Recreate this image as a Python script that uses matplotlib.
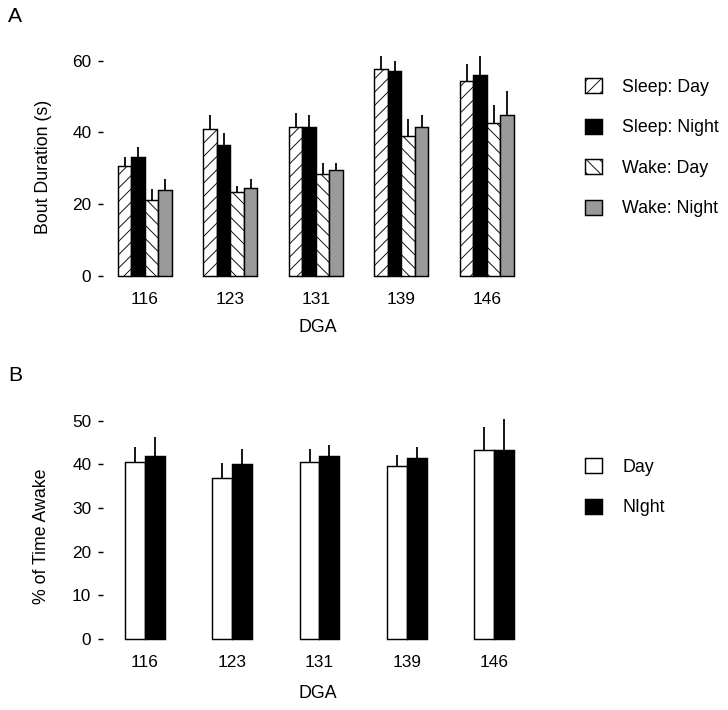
import numpy as np
import matplotlib
matplotlib.use('Agg')
import matplotlib.pyplot as plt
from matplotlib.patches import Patch

plt.rcParams['font.family'] = ['Liberation Sans', 'DejaVu Sans']
plt.rcParams['hatch.linewidth'] = 0.8

# data
dga = ['116', '123', '131', '139', '146']

sleep_day = [30.7, 40.9, 41.4, 57.7, 54.3]
sleep_day_err = [2.4, 4.0, 4.1, 3.6, 4.7]
sleep_night = [33.1, 36.4, 41.4, 57.2, 56.1]
sleep_night_err = [2.8, 3.4, 3.5, 2.8, 5.2]
wake_day = [21.1, 23.3, 28.4, 39.1, 42.5]
wake_day_err = [3.1, 1.9, 3.0, 4.6, 5.1]
wake_night = [24.0, 24.6, 29.6, 41.4, 44.8]
wake_night_err = [2.9, 2.3, 1.8, 3.5, 6.8]

awake_day = [40.5, 36.8, 40.5, 39.5, 43.3]
awake_day_err = [3.4, 3.4, 2.9, 2.6, 5.2]
awake_night = [42.0, 40.1, 42.0, 41.5, 43.3]
awake_night_err = [4.2, 3.3, 2.4, 2.4, 7.0]

W, H, DPI = 728, 710, 80
fig = plt.figure(figsize=(W / DPI, H / DPI), dpi=DPI)


def px_axes(left, right, y0, top):
    return fig.add_axes([left / W, 1 - y0 / H, (right - left) / W, (y0 - top) / H])


def style(ax, yticks):
    for s in ax.spines.values():
        s.set_visible(False)
    ax.set_yticks(yticks)
    ax.tick_params(axis='y', direction='out', length=4.5, width=1.3, pad=6, labelsize=15.5)
    ax.tick_params(axis='x', length=0, labelsize=15.5)


x = np.arange(len(dga))
gray = '#9a9a9a'

# ---- panel A ----
axA = px_axes(103, 520, 276, 276 - 63 * 3.589)
wA = 0.158
seriesA = [
    (sleep_day, sleep_day_err, 'white', '//', 'Sleep: Day'),
    (sleep_night, sleep_night_err, 'black', None, 'Sleep: Night'),
    (wake_day, wake_day_err, 'white', '\\\\', 'Wake: Day'),
    (wake_night, wake_night_err, gray, None, 'Wake: Night'),
]
handlesA = []
for i, (vals, errs, fc, hatch, lab) in enumerate(seriesA):
    xi = x + (i - 1.5) * wA
    axA.bar(xi, vals, width=wA, color=fc, edgecolor='black', linewidth=1.3,
            hatch=hatch, clip_on=False)
    axA.errorbar(xi, vals, yerr=[np.zeros(len(vals)), errs], fmt='none',
                 ecolor='black', elinewidth=1.6, capsize=0, clip_on=False)
    handlesA.append(Patch(facecolor=fc, edgecolor='black', linewidth=1.3, hatch=hatch, label=lab))
axA.set_xlim(-0.489, 4.388)
axA.set_ylim(0, 63)
style(axA, [0, 20, 40, 60])
axA.set_xticks(x)
axA.set_xticklabels(dga)
axA.tick_params(axis='x', pad=14)

# ---- panel B ----
axB = px_axes(103, 520, 638.7, 638.7 - 52 * 4.36)
wB = 0.227
seriesB = [
    (awake_day, awake_day_err, 'white', 'Day'),
    (awake_night, awake_night_err, 'black', 'NIght'),
]
handlesB = []
for i, (vals, errs, fc, lab) in enumerate(seriesB):
    xi = x + (i - 0.5) * wB
    axB.bar(xi, vals, width=wB, color=fc, edgecolor='black', linewidth=1.3, clip_on=False)
    axB.errorbar(xi, vals, yerr=[np.zeros(len(vals)), errs], fmt='none',
                 ecolor='black', elinewidth=1.6, capsize=0, clip_on=False)
    handlesB.append(Patch(facecolor=fc, edgecolor='black', linewidth=1.3, label=lab))
axB.set_xlim(-0.481, 4.298)
axB.set_ylim(0, 52)
style(axB, [0, 10, 20, 30, 40, 50])
axB.set_xticks(x)
axB.set_xticklabels(dga)
axB.tick_params(axis='x', pad=15)

# legends
legkw = dict(frameon=False, fontsize=16, handlelength=0.95, handleheight=0.95,
             handletextpad=1.15, labelspacing=1.28, borderpad=0, borderaxespad=0,
             loc='upper left', bbox_transform=fig.transFigure)
legA = fig.legend(handles=handlesA, bbox_to_anchor=(585 / W, 1 - 78 / H), **legkw)
legB = fig.legend(handles=handlesB, bbox_to_anchor=(585 / W, 1 - 458 / H), **legkw)

# labels
fig.text(15.5 / W, 1 - 16 / H, 'A', fontsize=19, ha='center', va='center')
fig.text(15.5 / W, 1 - 375.5 / H, 'B', fontsize=19, ha='center', va='center')
fig.text(43 / W, 1 - 167 / H, 'Bout Duration (s)', fontsize=16, rotation=90, ha='center', va='center')
fig.text(41 / W, 1 - 536 / H, '% of Time Awake', fontsize=16, rotation=90, ha='center', va='center')
fig.text(318 / W, 1 - 327 / H, 'DGA', fontsize=16, ha='center', va='center')
fig.text(318 / W, 1 - 693 / H, 'DGA', fontsize=16, ha='center', va='center')

fig.savefig('out.png', dpi=DPI)
